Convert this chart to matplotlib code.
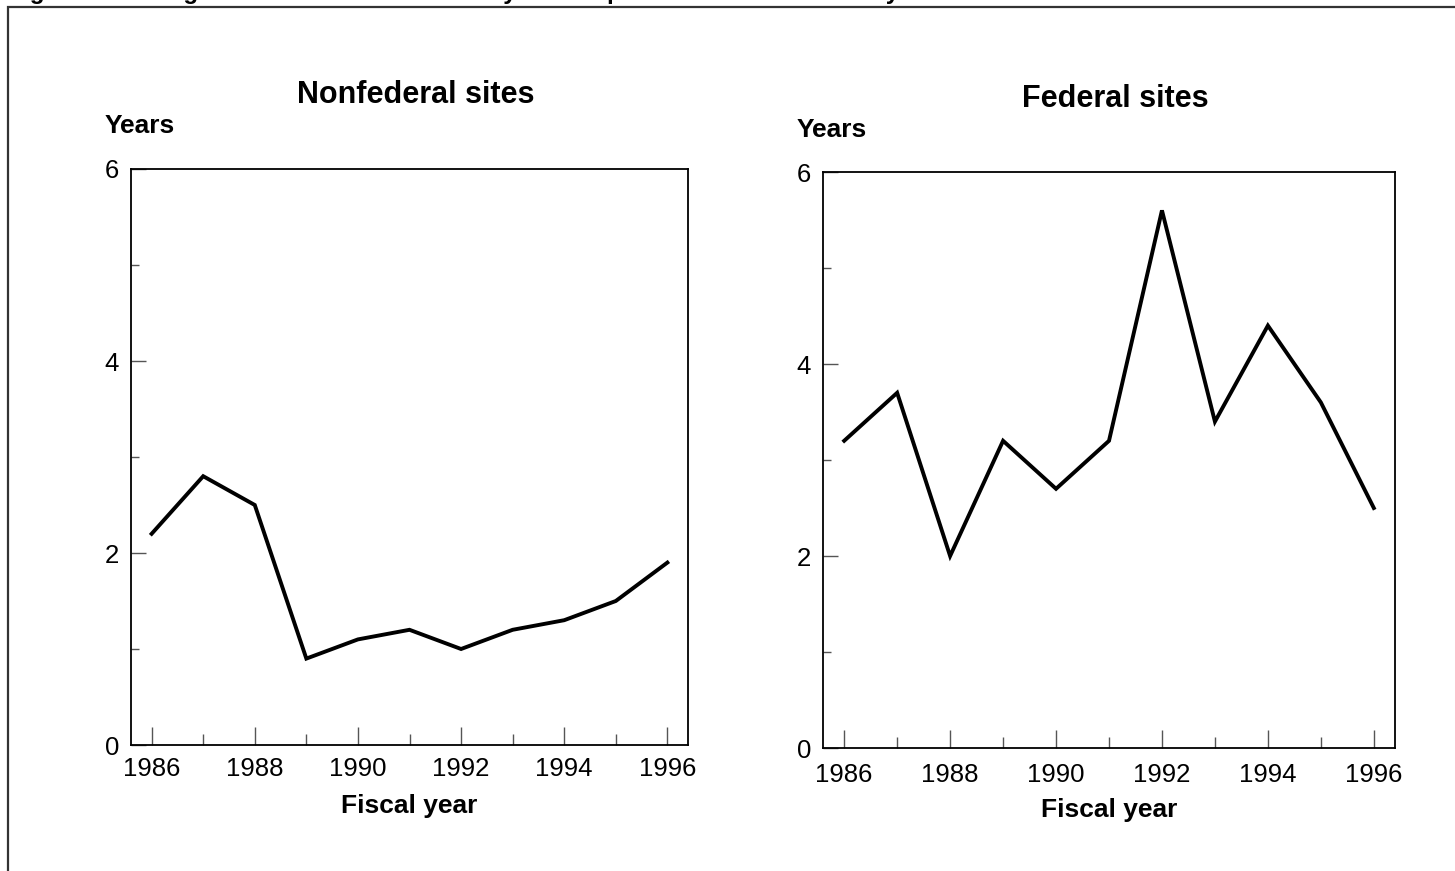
import matplotlib
matplotlib.use("Agg")
import matplotlib.pyplot as plt
from matplotlib.patches import Rectangle
from matplotlib.ticker import MultipleLocator

plt.rcParams['font.family'] = ['Liberation Sans', 'DejaVu Sans']

years = [1986, 1987, 1988, 1989, 1990, 1991, 1992, 1993, 1994, 1995, 1996]
nonfederal = [2.2, 2.8, 2.5, 0.9, 1.1, 1.2, 1.0, 1.2, 1.3, 1.5, 1.9]
federal = [3.2, 3.7, 2.0, 3.2, 2.7, 3.2, 5.6, 3.4, 4.4, 3.6, 2.5]
xticklabels = [1986, 1988, 1990, 1992, 1994, 1996]
yticks = [0, 2, 4, 6]

W, H = 1455, 871
fig = plt.figure(figsize=(W / 100, H / 100), dpi=100)

# figure title sits above the page edge, only descenders show in the source
fig.text(8 / W, 1.0 + 0.5 / H,
         "Figure 2: Average Time From Site Discovery to Completion of the Preliminary Assessment",
         fontsize=17.5, fontweight='bold', va='baseline', ha='left')

# outer frame, right and bottom edges run off the page
fig.patches.append(Rectangle((8 / W, -0.05), 1.2, 1.05 - 7 / H,
                             transform=fig.transFigure, fill=False,
                             edgecolor='#333333', linewidth=1.6))


def panel(rect, data, title, title_base, years_base, fy_base, xpad):
    l, t, r, b = rect
    ax = fig.add_axes([l / W, 1 - b / H, (r - l) / W, (b - t) / H])
    ax.plot(years, data, color='black', linewidth=2.8, solid_joinstyle='miter')
    ax.set_xlim(1985.6, 1996.4)
    ax.set_ylim(0, 6)
    ax.set_xticks(years, minor=True)
    ax.set_xticks(xticklabels)
    ax.set_xticklabels([str(v) for v in xticklabels])
    ax.set_yticks(yticks)
    ax.yaxis.set_minor_locator(MultipleLocator(1))
    ax.tick_params(axis='x', which='major', direction='in', length=13,
                   width=1, color='#555555', labelsize=18.5, pad=xpad)
    ax.tick_params(axis='x', which='minor', direction='in', length=8,
                   width=1, color='#555555')
    ax.tick_params(axis='y', which='major', direction='in', length=11,
                   width=1, color='#555555', labelsize=18.5, pad=8.5)
    ax.tick_params(axis='y', which='minor', direction='in', length=6,
                   width=1, color='#555555')
    for s in ax.spines.values():
        s.set_linewidth(1.3)
    cx = (l + r) / 2
    fig.text((cx + 6) / W, 1 - title_base / H, title, fontsize=22,
             fontweight='bold', ha='center', va='baseline')
    fig.text((l - 26) / W, 1 - years_base / H, "Years", fontsize=19,
             fontweight='bold', ha='left', va='baseline')
    fig.text(cx / W, 1 - fy_base / H, "Fiscal year", fontsize=19,
             fontweight='bold', ha='center', va='baseline')
    return ax


panel((131, 169, 688, 745), nonfederal, "Nonfederal sites", 103, 133, 813, 8.5)
panel((823, 172, 1395, 748), federal, "Federal sites", 107, 137, 817, 11)

fig.savefig("out.png", dpi=100)
